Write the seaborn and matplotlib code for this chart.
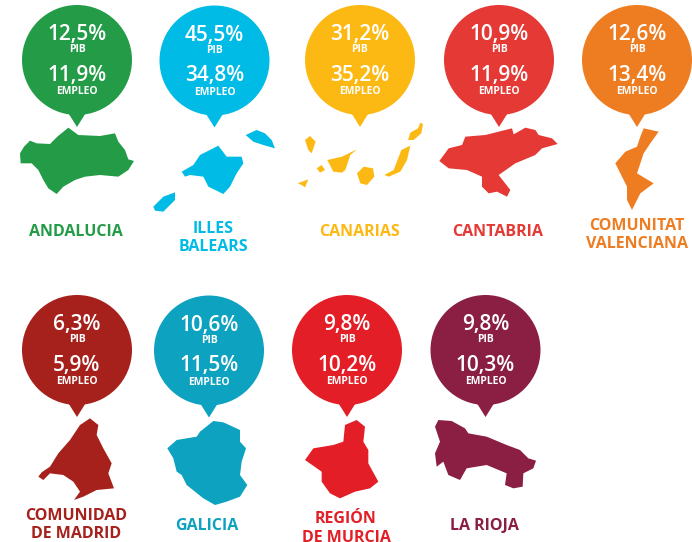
import matplotlib
matplotlib.use("Agg")
import matplotlib.pyplot as plt
import pandas as pd
import seaborn as sns

# values as printed in the bubbles
regions = ["ANDALUCIA", "ILLES BALEARS", "CANARIAS", "CANTABRIA", "COMUNITAT VALENCIANA",
           "COMUNIDAD DE MADRID", "GALICIA", "REGIÓN DE MURCIA", "LA RIOJA"]
pib = [12.5, 45.5, 31.2, 10.9, 12.6, 6.3, 10.6, 9.8, 9.8]
empleo = [11.9, 34.8, 35.2, 11.9, 13.4, 5.9, 11.5, 10.2, 10.3]
colors = ["#239B47", "#00BBE6", "#FDB913", "#E53935", "#EE7D22",
          "#A6211C", "#0DA2BF", "#E31E26", "#8A1F43"]

# layout in pixels
bubble_x = [77, 214.5, 360, 499, 637, 77, 209, 347, 485.5]
bubble_y = [60, 60.5, 60, 60, 60, 350, 350.5, 350, 350]
label_x = [76, 213, 360, 498, 637, 76, 207, 346, 484]
label_lines = [["ANDALUCIA"], ["ILLES", "BALEARS"], ["CANARIAS"], ["CANTABRIA"],
               ["COMUNITAT", "VALENCIANA"], ["COMUNIDAD", "DE MADRID"], ["GALICIA"],
               ["REGIÓN", "DE MURCIA"], ["LA RIOJA"]]
label_y = [[230], [227, 245], [230], [230], [224, 242], [514, 532], [524], [517, 536], [524]]

shapes = [
    ((0, 0), [[(60, 460), (72, 440), (90, 422), (110, 430), (150, 432), (172, 410), (205, 383), (235, 405),
               (300, 408), (345, 400), (355, 425), (375, 450), (385, 478), (402, 483), (385, 510), (355, 530),
               (300, 525), (255, 530), (225, 540), (190, 560), (170, 582), (145, 565), (130, 540), (115, 510),
               (95, 490), (62, 490)]]),
    ((0, 0), [[(545, 515), (580, 495), (600, 465), (655, 437), (680, 470), (725, 470), (730, 490), (710, 520),
               (690, 560), (670, 582), (625, 560), (610, 530), (570, 525), (555, 530)],
              [(737, 405), (770, 390), (795, 400), (815, 420), (825, 445), (790, 435), (760, 425)],
              [(460, 620), (490, 590), (525, 577), (525, 600), (490, 635), (465, 632)]]),
    ((0, 0), [[(915, 420), (930, 408), (947, 425), (935, 460), (925, 450)],
              [(893, 550), (925, 538), (915, 562), (905, 555)],
              [(950, 505), (965, 495), (975, 510), (960, 518)],
              [(982, 480), (1026, 470), (1071, 448), (1051, 465), (1036, 510), (1026, 518), (1000, 515)],
              [(1071, 520), (1091, 500), (1119, 505), (1123, 530), (1101, 555), (1081, 550)],
              [(1153, 525), (1181, 510), (1204, 450), (1231, 437), (1221, 480), (1201, 515), (1166, 530)],
              [(1224, 420), (1231, 398), (1254, 385), (1261, 368), (1269, 372), (1264, 400), (1241, 420)]]),
    ((342, 0), [[(292, 483), (320, 445), (360, 435), (370, 410), (430, 405), (510, 385), (515, 403), (550, 383),
                 (580, 390), (590, 405), (630, 415), (647, 432), (600, 445), (580, 465), (520, 490), (470, 525),
                 (505, 570), (495, 590), (465, 575), (440, 580), (420, 560), (420, 530), (375, 510), (320, 505)]]),
    ((342, 0), [[(905, 385), (950, 395), (925, 430), (905, 460), (885, 520), (935, 550), (895, 580), (870, 630),
                 (855, 600), (855, 560), (840, 530), (820, 490), (850, 455), (885, 440), (895, 410)]]),
    ((0, 285), [[(270, 400), (295, 420), (290, 450), (310, 490), (335, 535), (325, 565), (342, 610), (290, 615),
                 (250, 635), (222, 645), (240, 620), (220, 590), (190, 570), (150, 565), (130, 585), (115, 575),
                 (125, 562), (150, 545), (175, 505), (210, 465), (240, 420)]]),
    ((0, 285), [[(600, 440), (640, 408), (670, 412), (720, 435), (720, 470), (738, 490), (725, 530), (720, 570),
                 (742, 600), (720, 635), (680, 650), (645, 660), (610, 640), (560, 600), (545, 570), (530, 560),
                 (520, 520), (502, 490), (530, 465), (590, 455)]]),
    ((280, 285), [[(195, 420), (230, 405), (255, 425), (250, 470), (265, 495), (265, 535), (295, 590), (270, 610),
                   (225, 620), (180, 640), (150, 625), (125, 590), (125, 560), (75, 525), (100, 490), (160, 480),
                   (190, 470)]]),
    ((280, 285), [[(465, 425), (475, 405), (515, 408), (555, 430), (565, 445), (620, 455), (680, 480), (720, 495),
                   (745, 520), (768, 527), (760, 550), (730, 565), (728, 605), (700, 610), (675, 600), (680, 565),
                   (620, 540), (560, 550), (540, 585), (505, 570), (490, 530), (470, 545), (465, 505), (480, 470)]]),
]

sns.set_style("white")
plt.rcParams["font.family"] = ["Open Sans", "DejaVu Sans"]

df = pd.DataFrame({"region": regions, "x": bubble_x, "y": bubble_y, "pib": pib, "empleo": empleo})
df["base"] = df["y"] + 47
palette = dict(zip(regions, colors))

fig = plt.figure(figsize=(6.92, 5.42), dpi=100)
ax = fig.add_axes([0, 0, 1, 1])

# pointers first, circles over them
sns.scatterplot(data=df, x="x", y="base", hue="region", palette=palette, legend=False,
                marker=[(-0.625, 0), (0.625, 0), (0, -1)], s=829, linewidth=0, ax=ax)
sns.scatterplot(data=df, x="x", y="y", hue="region", palette=palette, legend=False,
                marker="o", s=6273, linewidth=0, ax=ax)

for (ox, oy), parts, color in zip([s[0] for s in shapes], [s[1] for s in shapes], colors):
    for part in parts:
        ax.fill([ox + p[0] / 3 for p in part], [oy + p[1] / 3 for p in part], color=color, lw=0)

for row in df.itertuples():
    ax.text(row.x, row.y - 20, f"{row.pib:.1f}%".replace(".", ","), color="white", fontsize=15,
            fontweight="semibold", ha="center", va="baseline")
    ax.text(row.x, row.y - 7.5, "PIB", color="white", fontsize=7.5, fontweight="bold",
            ha="center", va="baseline")
    ax.text(row.x, row.y + 20.5, f"{row.empleo:.1f}%".replace(".", ","), color="white", fontsize=15,
            fontweight="semibold", ha="center", va="baseline")
    ax.text(row.x, row.y + 34.5, "EMPLEO", color="white", fontsize=7.5, fontweight="bold",
            ha="center", va="baseline")

for x, lines, ys, color in zip(label_x, label_lines, label_y, colors):
    for line, y in zip(lines, ys):
        ax.text(x, y + 6, line, color=color, fontsize=11.5, fontweight="bold", ha="center", va="baseline")

ax.set_xlim(0, 692)
ax.set_ylim(542, 0)
ax.axis("off")
fig.savefig("out.png", dpi=100, facecolor="white")
